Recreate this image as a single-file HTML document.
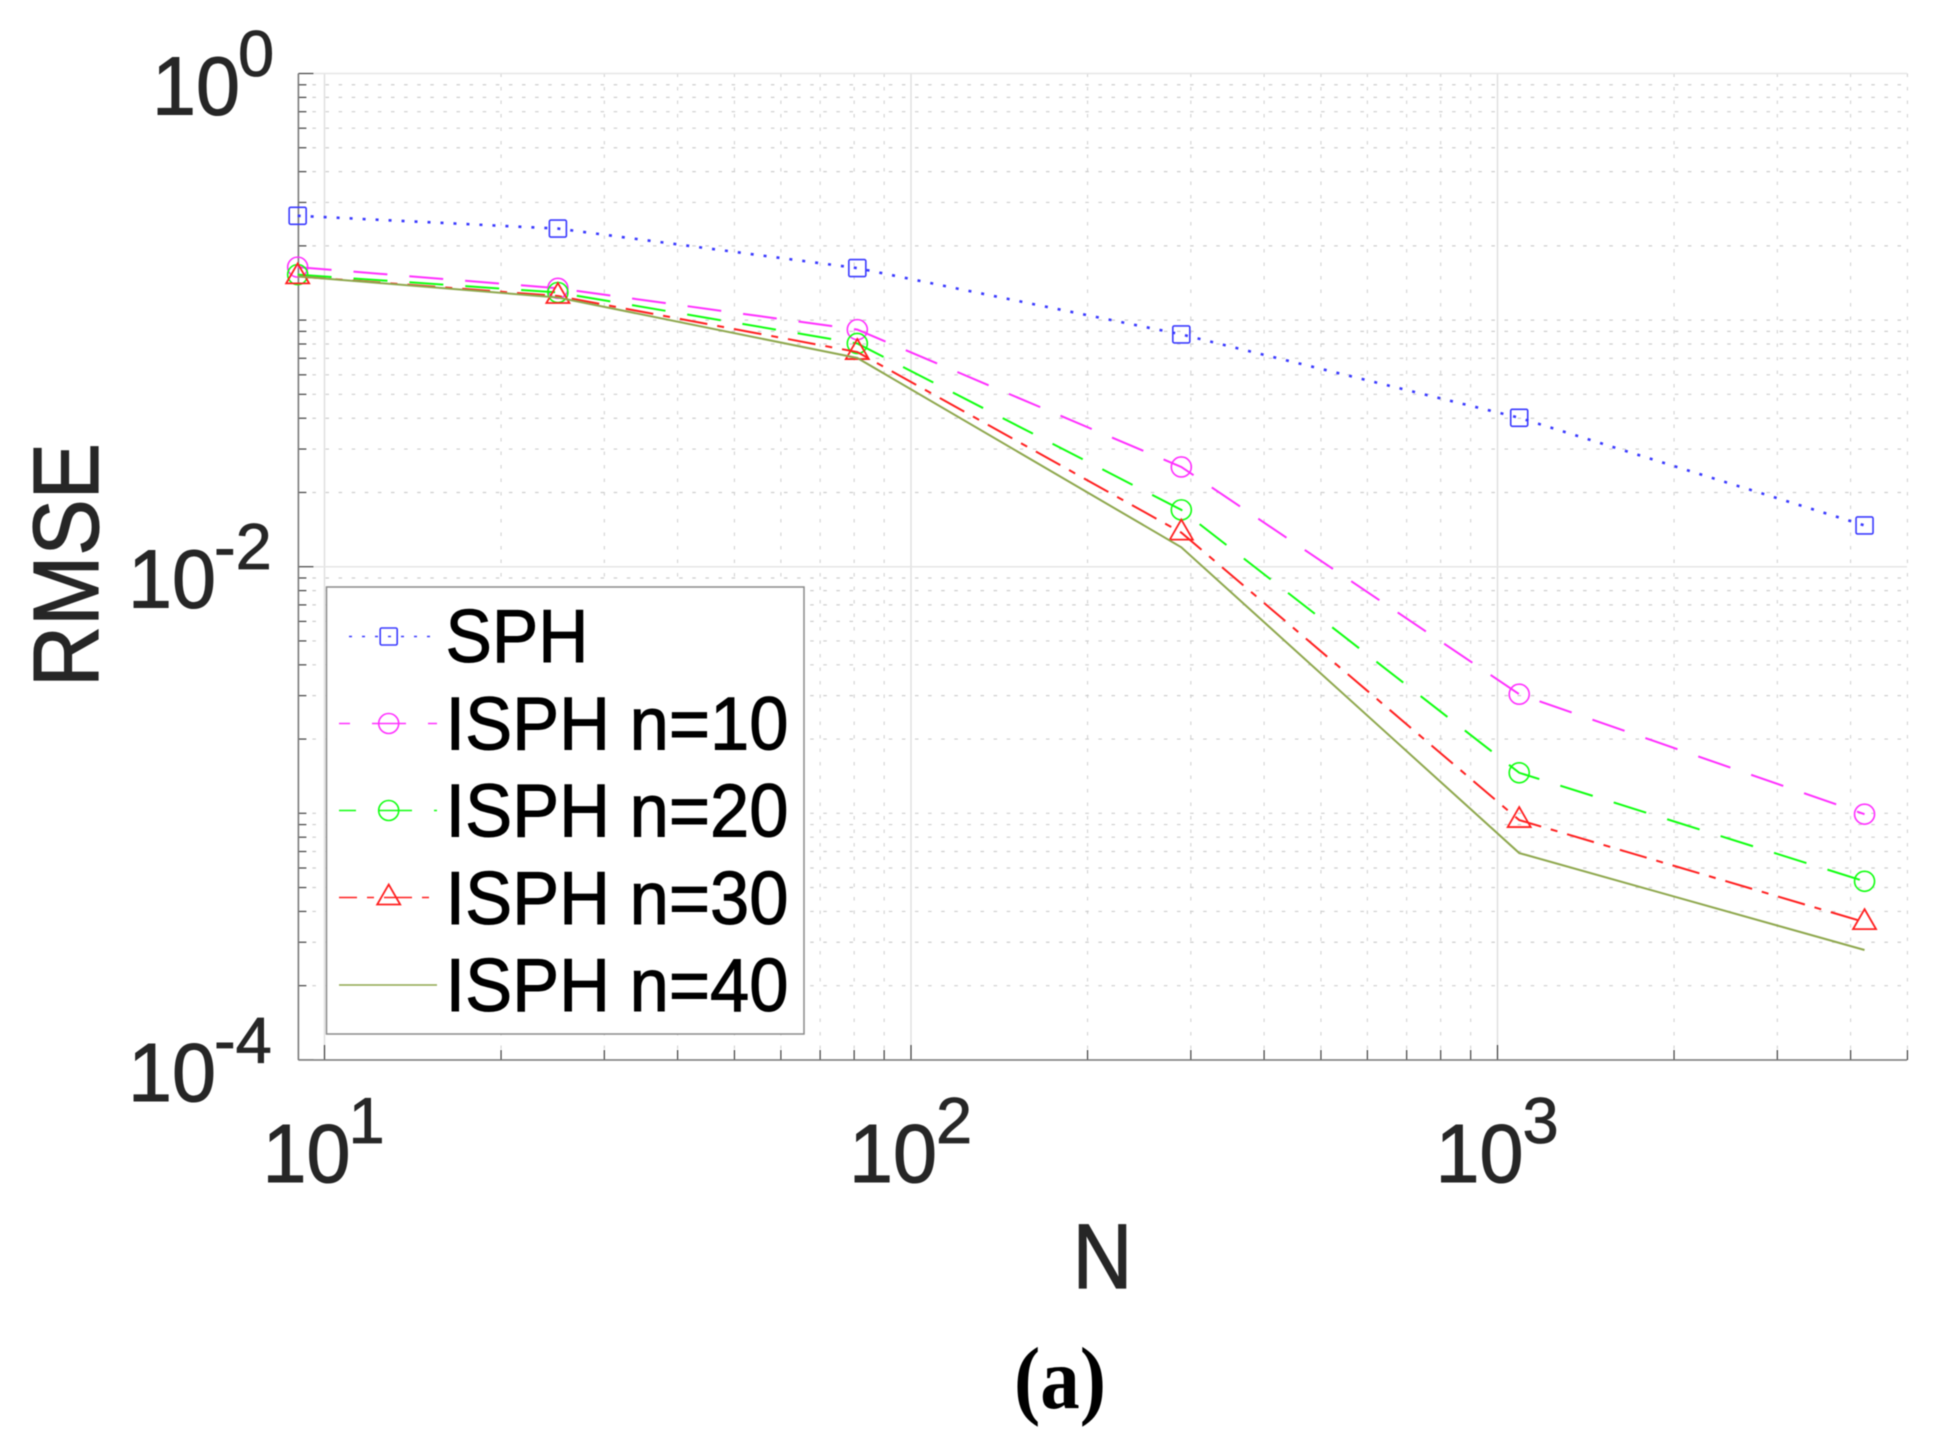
<!DOCTYPE html>
<html lang="en">
<head>
<meta charset="utf-8">
<title>RMSE vs N</title>
<style>
html,body{margin:0;padding:0;background:#fff;width:1949px;height:1439px;overflow:hidden}
svg{display:block;filter:blur(0.45px)}
text{font-family:"Liberation Sans",sans-serif}
</style>
</head>
<body>
<svg id="chart" xmlns="http://www.w3.org/2000/svg" width="1949" height="1439" viewBox="0 0 1949 1439">
  <rect width="1949" height="1439" fill="#fff"/>
  <g id="grid"></g>
  <g id="axes"></g>
  <g id="series"></g>
  <g id="ticklabels"></g>
  <text transform="translate(98,565) rotate(-90)" text-anchor="middle" font-size="93" fill="#262626" stroke="#262626" stroke-width="1.2" textLength="244" lengthAdjust="spacingAndGlyphs">RMSE</text>
  <text x="1102.5" y="1288" text-anchor="middle" font-size="92" fill="#262626" stroke="#262626" stroke-width="1.2" textLength="60" lengthAdjust="spacingAndGlyphs">N</text>
  <text x="1060" y="1408" text-anchor="middle" font-size="88" font-weight="bold" fill="#000" textLength="92" lengthAdjust="spacingAndGlyphs" style="font-family:'Liberation Serif',serif">(a)</text>
  <g id="legend">
    <rect x="326.5" y="587" width="477.5" height="447" fill="#fff" stroke="#8a8a8a" stroke-width="1.5"/>
    <text x="445.5" y="662" font-size="75.5" fill="#000" stroke="#000" stroke-width="1" textLength="143" lengthAdjust="spacingAndGlyphs">SPH</text>
    <text x="445.5" y="749.5" font-size="75.5" fill="#000" stroke="#000" stroke-width="1" textLength="343" lengthAdjust="spacingAndGlyphs">ISPH n=10</text>
    <text x="445.5" y="836.5" font-size="75.5" fill="#000" stroke="#000" stroke-width="1" textLength="343" lengthAdjust="spacingAndGlyphs">ISPH n=20</text>
    <text x="445.5" y="924" font-size="75.5" fill="#000" stroke="#000" stroke-width="1" textLength="343" lengthAdjust="spacingAndGlyphs">ISPH n=30</text>
    <text x="445.5" y="1011" font-size="75.5" fill="#000" stroke="#000" stroke-width="1" textLength="343" lengthAdjust="spacingAndGlyphs">ISPH n=40</text>
  </g>
</svg>
<script>
const categories = [9, 25, 81, 289, 1089, 4225];
const sph = [0.2648, 0.235, 0.1625, 0.0875, 0.04016, 0.01470];
const n10 = [0.1640, 0.1346, 0.0915, 0.02538, 0.003040, 0.000992];
const n20 = [0.1529, 0.1294, 0.0804, 0.01700, 0.00146, 0.000530];
const n30 = [0.1504, 0.1252, 0.0742, 0.01375, 0.000939, 0.000362];
const n40 = [0.1504, 0.1235, 0.0702, 0.01199, 0.00069, 0.000279];
const xTickExponents = ["1", "2", "3"];
const yTickExponents = ["0", "-2", "-4"];

const NS = 'http://www.w3.org/2000/svg';
const X_LEFT = 298.4, X_RIGHT = 1907, Y_TOP = 73.5, Y_BOTTOM = 1060;
function xScale(v) { return 324.5 + (Math.log10(v) - 1) * 586.5; }
function yScale(v) { return Y_TOP - Math.log10(v) * 246.6; }

function mk(parent, tag, attrs) {
  const el = document.createElementNS(NS, tag);
  for (const k in attrs) el.setAttribute(k, attrs[k]);
  parent.appendChild(el);
  return el;
}

const gridG = document.getElementById('grid');
const axesG = document.getElementById('axes');
const seriesG = document.getElementById('series');
const labelsG = document.getElementById('ticklabels');
const legendG = document.getElementById('legend');

/* vertical grid + x ticks */
for (let d = 1; d <= 3; d++) {
  for (let m = 1; m <= 9; m++) {
    const v = m * Math.pow(10, d);
    if (v > 5000) continue;
    const x = xScale(v);
    const major = m === 1;
    const g = mk(gridG, 'line', { x1: x, x2: x, y1: Y_TOP, y2: Y_BOTTOM, stroke: major ? '#dedede' : '#d2d2d2', 'stroke-width': major ? 1.4 : 1.1, 'stroke-dasharray': major ? 'none' : '3.5 10' });
    
    
    const t = mk(axesG, 'line', { x1: x, x2: x, y1: Y_BOTTOM, y2: Y_BOTTOM - (major ? 15 : 10), stroke: '#404040', 'stroke-width': 1.2 });
    
    
  }
}

/* horizontal grid + y ticks */
for (let d = -4; d <= 0; d++) {
  for (let m = 1; m <= 9; m++) {
    const v = m * Math.pow(10, d);
    if (v > 1.0001) continue;
    const y = yScale(v);
    const major = m === 1 && d % 2 === 0;
    const g = mk(gridG, 'line', { x1: X_LEFT + 14, x2: X_RIGHT, y1: y, y2: y, stroke: major ? '#e6e6e6' : '#cdcdcd', 'stroke-width': major ? 1.5 : 1.2, 'stroke-dasharray': major ? 'none' : '3.5 9.6' });
    
    
    const t = mk(axesG, 'line', { x1: X_LEFT, x2: X_LEFT + (major ? 15 : 8), y1: y, y2: y, stroke: '#404040', 'stroke-width': 1.2 });
    
    
  }
}

const leftAxis = mk(axesG, 'line', { x1: X_LEFT, x2: X_LEFT, y1: Y_TOP, y2: Y_BOTTOM, stroke: '#7a7a7a', 'stroke-width': 1.6 });


const bottomAxis = mk(axesG, 'line', { x1: X_LEFT, x2: X_RIGHT, y1: Y_BOTTOM, y2: Y_BOTTOM, stroke: '#7a7a7a', 'stroke-width': 1.6 });



/* series */
const seriesList = [
  { key: 'sph', values: sph, color: '#3a3aff', dash: '3 10', marker: 'square' },
  { key: 'n10', values: n10, color: '#ff30ff', dash: '34 22', marker: 'circle' },
  { key: 'n20', values: n20, color: '#10ff10', dash: '34 22', marker: 'circle' },
  { key: 'n30', values: n30, color: '#ff2020', dash: '28 10 7 10', marker: 'triangle' },
  { key: 'n40', values: n40, color: '#8fa84e', dash: 'none', marker: 'none' }
];

function drawMarker(parent, type, cx, cy, color) {
  let m = null;
  if (type === 'square') {
    m = mk(parent, 'rect', { x: cx - 8.5, y: cy - 8.5, width: 17, height: 17, rx: 1.5, fill: 'none', stroke: color, 'stroke-width': 1.6 });
  } else if (type === 'circle') {
    m = mk(parent, 'circle', { cx: cx, cy: cy, r: 10, fill: 'none', stroke: color, 'stroke-width': 1.6 });
  } else if (type === 'triangle') {
    m = mk(parent, 'polygon', { points: (cx) + ',' + (cy - 13) + ' ' + (cx + 11.5) + ',' + (cy + 7) + ' ' + (cx - 11.5) + ',' + (cy + 7), fill: 'none', stroke: color, 'stroke-width': 1.8 });
  }
  if (m) {
    
    
  }
}

seriesList.forEach(function (s) {
  const g = mk(seriesG, 'g', {});
  
  
  const pts = s.values.map(function (v, i) { return xScale(categories[i]) + ',' + yScale(v); }).join(' ');
  const line = mk(g, 'polyline', { points: pts, fill: 'none', stroke: s.color, 'stroke-width': s.marker === 'square' ? 2.6 : 2, 'stroke-dasharray': s.dash });
  
  
  s.values.forEach(function (v, i) {
    drawMarker(g, s.marker, xScale(categories[i]), yScale(v), s.color);
  });
});

/* legend handles */
const legendRows = [636.5, 723.5, 810.5, 897.5, 985];
const legendSpans = [[349, 430, 0], [339, 437, 23], [339, 437, 17], [339, 437, 10], [339, 437, 0]];
seriesList.forEach(function (s, i) {
  const y = legendRows[i];
  const span = legendSpans[i];
  const h = mk(legendG, 'g', {});
  
  
  const l = mk(h, 'line', { x1: span[0], x2: span[1], y1: y, y2: y, stroke: s.color, 'stroke-width': 1.4, 'stroke-dasharray': s.dash, 'stroke-dashoffset': span[2] });
  
  
  drawMarker(h, s.marker, 388.7, y, s.color);
});

/* tick labels */
function powerLabel(name, x10, base, xSup, baseSup, exp) {
  const t = mk(labelsG, 'text', { x: x10, y: base, 'font-size': 83, fill: '#262626', stroke: '#262626', 'stroke-width': 1, textLength: 88, lengthAdjust: 'spacingAndGlyphs' });
  
  
  t.textContent = '10';
  const e = mk(labelsG, 'text', { x: xSup, y: baseSup, 'font-size': 65, fill: '#262626', stroke: '#262626', 'stroke-width': 0.8 });
  
  
  e.textContent = exp;
}
xTickExponents.forEach(function (exp) {
  const x = xScale(Math.pow(10, Number(exp)));
  powerLabel('x-tick-label', x - 62, 1182, x + (exp === '1' ? 24 : 25), 1143, exp);
});
yTickExponents.forEach(function (exp) {
  const y = yScale(Math.pow(10, Number(exp)));
  const neg = exp.charAt(0) === '-';
  powerLabel('y-tick-label', neg ? 128 : 152, y + 41, neg ? 214 : 238, y + 2.5, exp);
});
</script>
</body>
</html>
